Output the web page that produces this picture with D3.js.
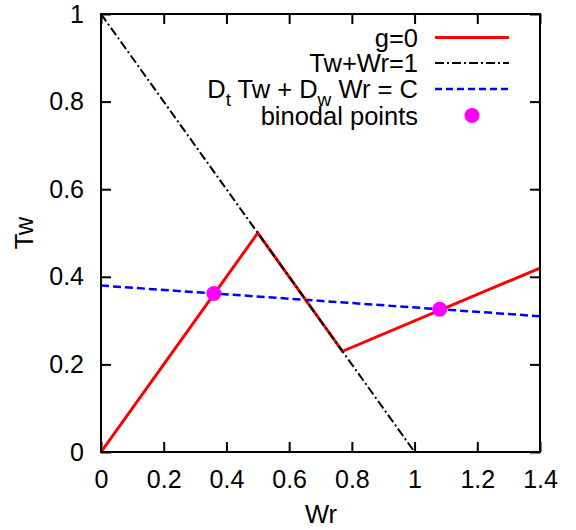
<!DOCTYPE html>
<html><head><meta charset="utf-8">
<script src="https://cdn.jsdelivr.net/npm/d3@7"></script>
<style>body{margin:0;background:#fff}text{font-family:"Liberation Sans",Arial,sans-serif;}</style>
</head><body><svg id="c" width="576" height="530"></svg>
<script>
const xTicks=[0,0.2,0.4,0.6,0.8,1,1.2,1.4];
const yTicks=[0,0.2,0.4,0.6,0.8,1];
const xTickLabels=["0","0.2","0.4","0.6","0.8","1","1.2","1.4"];
const yTickLabels=["0","0.2","0.4","0.6","0.8","1"];
const gWr=[0,0.5,0.77,1.4];
const gTw=[0,0.5,0.23,0.42];
const sumWr=[0,1];
const sumTw=[1,0];
const cWr=[0,1.4];
const cTw=[0.38,0.31];
const binWr=[0.36,1.08];
const binTw=[0.362,0.326];

const svg=d3.select("#c");
const L=101,R=540,T=14,B=452;
const x=d3.scaleLinear().domain([0,1.4]).range([L,R]);
const y=d3.scaleLinear().domain([0,1]).range([B,T]);
const fs=25, lfs=25.5;

const tl=10;
const styleAxis=g=>{g.select(".domain").remove();g.selectAll("line").attr("stroke","#000").attr("stroke-width",2);g.selectAll("text").attr("font-size",fs).attr("fill","#000").attr("font-family","Liberation Sans, Arial, sans-serif");};
svg.append("g").attr("transform",`translate(0,${B})`).call(d3.axisBottom(x).tickValues(xTicks).tickSize(-tl).tickFormat((d,i)=>xTickLabels[i]).tickPadding(18)).call(styleAxis);
svg.append("g").attr("transform",`translate(0,${T})`).call(d3.axisTop(x).tickValues(xTicks).tickSize(-tl).tickFormat("")).call(styleAxis);
svg.append("g").attr("transform",`translate(${L},0)`).call(d3.axisLeft(y).tickValues(yTicks).tickSize(-tl).tickFormat((d,i)=>yTickLabels[i]).tickPadding(17)).call(styleAxis);
svg.append("g").attr("transform",`translate(${R},0)`).call(d3.axisRight(y).tickValues(yTicks).tickSize(-tl).tickFormat("")).call(styleAxis);

const line=d3.line().x(d=>x(d[0])).y(d=>y(d[1]));
svg.append("clipPath").attr("id","cp").append("rect").attr("x",L).attr("y",T).attr("width",R-L).attr("height",B-T);
const plot=svg.append("g").attr("clip-path","url(#cp)");

plot.append("path").attr("d",line(cWr.map((v,i)=>[v,cTw[i]]))).attr("fill","none").attr("stroke","#0000ff").attr("stroke-width",2.5).attr("stroke-dasharray","8,4");
plot.append("path").attr("d",line(gWr.map((v,i)=>[v,gTw[i]]))).attr("fill","none").attr("stroke","#ff0000").attr("stroke-width",3);
plot.append("path").attr("d",line(sumWr.map((v,i)=>[v,sumTw[i]]))).attr("fill","none").attr("stroke","#000").attr("stroke-width",2).attr("stroke-dasharray","9,3,2,3");
plot.selectAll("circle.b").data(binWr).enter().append("circle").attr("cx",d=>x(d)).attr("cy",(d,i)=>y(binTw[i])).attr("r",7.5).attr("fill","#ff00ff");

svg.append("rect").attr("x",L).attr("y",T).attr("width",R-L).attr("height",B-T).attr("fill","none").attr("stroke","#000").attr("stroke-width",2);

// axis titles
svg.append("text").attr("transform",`translate(33,${(T+B)/2}) rotate(-90)`).attr("text-anchor","middle").attr("font-size",lfs).text("Tw");
svg.append("text").attr("x",321).attr("y",523).attr("text-anchor","middle").attr("font-size",lfs).text("Wr");

// legend
const lx=418, sx0=435, sx1=509;
const rows=[37.5,63,89,115.5];
const off=9.2;
const lg=svg.append("g");
lg.append("text").attr("x",lx).attr("y",rows[0]+off).attr("text-anchor","end").attr("font-size",lfs).text("g=0");
lg.append("line").attr("x1",sx0).attr("x2",sx1).attr("y1",rows[0]).attr("y2",rows[0]).attr("stroke","#ff0000").attr("stroke-width",3);
lg.append("text").attr("x",lx).attr("y",rows[1]+off).attr("text-anchor","end").attr("font-size",lfs).text("Tw+Wr=1");
lg.append("line").attr("x1",sx0).attr("x2",sx1).attr("y1",rows[1]).attr("y2",rows[1]).attr("stroke","#000").attr("stroke-width",2).attr("stroke-dasharray","9,3,2,3");
const t3=lg.append("text").attr("x",lx).attr("y",rows[2]+off).attr("text-anchor","end").attr("font-size",lfs);
t3.append("tspan").text("D");
t3.append("tspan").attr("font-size",19).attr("dy",8).text("t");
t3.append("tspan").attr("dy",-8).text(" Tw + D");
t3.append("tspan").attr("font-size",19).attr("dy",8).text("w");
t3.append("tspan").attr("dy",-8).text(" Wr = C");
lg.append("line").attr("x1",sx0).attr("x2",sx1).attr("y1",rows[2]).attr("y2",rows[2]).attr("stroke","#0000ff").attr("stroke-width",2.5).attr("stroke-dasharray","7,4");
lg.append("text").attr("x",lx).attr("y",rows[3]+off).attr("text-anchor","end").attr("font-size",lfs).text("binodal points");
lg.append("circle").attr("cx",472).attr("cy",rows[3]).attr("r",7.5).attr("fill","#ff00ff");
</script></body></html>
